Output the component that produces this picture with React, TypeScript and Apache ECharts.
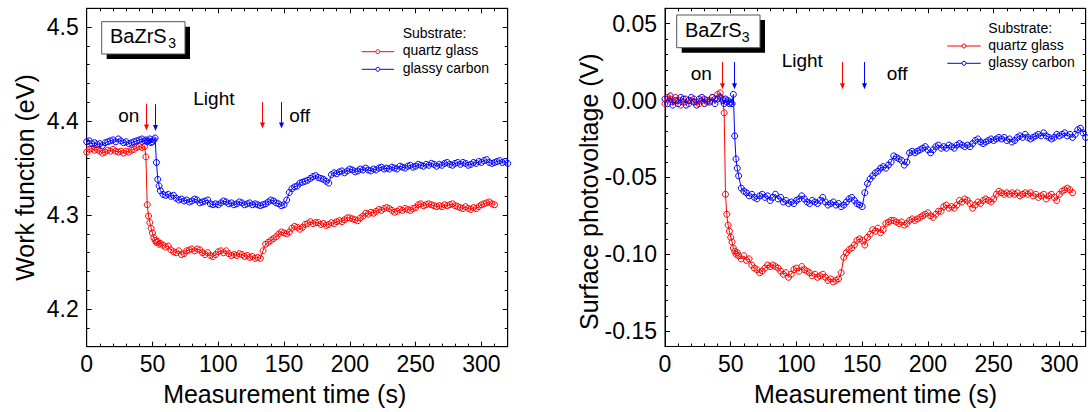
import React, { useEffect, useRef } from "react";
import * as echarts from "echarts";

const FONT = "Liberation Sans, Arial, sans-serif";
const RED = "#ff0000";
const BLUE = "#0000ff";

// Measurement time (s)
const TIME = [
  0, 2, 4, 6, 8, 10, 12, 14, 16, 18, 20, 22, 24, 26, 28, 30, 32, 34, 36, 38, 40, 42, 44,
  45, 46, 47, 48, 49, 50, 51, 52, 53, 54, 55, 56,
  58, 60, 62, 64, 66, 68, 70, 72, 74, 76, 78, 80, 82, 84, 86, 88, 90, 92, 94, 96, 98, 100,
  102, 104, 106, 108, 110, 112, 114, 116, 118, 120, 122, 124, 126, 128, 130, 132, 134, 136,
  138, 140, 142, 144, 146, 148, 150, 152, 154, 156, 158, 160, 162, 164, 166, 168, 170, 172,
  174, 176, 178, 180, 182, 184, 186, 188, 190, 192, 194, 196, 198, 200, 202, 204, 206, 208,
  210, 212, 214, 216, 218, 220, 222, 224, 226, 228, 230, 232, 234, 236, 238, 240, 242, 244,
  246, 248, 250, 252, 254, 256, 258, 260, 262, 264, 266, 268, 270, 272, 274, 276, 278, 280,
  282, 284, 286, 288, 290, 292, 294, 296, 298, 300, 302, 304, 306, 308, 310, 312, 314, 316,
  318, 320,
];

// Work function (eV), quartz glass substrate
const WF_QUARTZ = [
  4.367, 4.370, 4.371, 4.369, 4.370, 4.368, 4.366, 4.367, 4.369, 4.368, 4.370, 4.368, 4.367, 4.368, 4.366, 4.368, 4.367, 4.369, 4.370, 4.372, 4.373, 4.372, 4.373,
  4.362, 4.311, 4.299, 4.292, 4.286, 4.281, 4.276, 4.273, 4.271, 4.272, 4.269, 4.270,
  4.268, 4.266, 4.267, 4.263, 4.261, 4.260, 4.262, 4.258, 4.259, 4.262,
  4.263, 4.264, 4.262, 4.264, 4.263, 4.260, 4.258, 4.260, 4.257, 4.256,
  4.258, 4.261, 4.262, 4.260, 4.262, 4.259, 4.257, 4.258, 4.257, 4.259,
  4.258, 4.256, 4.257, 4.255, 4.256, 4.254, 4.255, 4.254,
  4.262, 4.269, 4.271, 4.273, 4.275, 4.277, 4.280, 4.282, 4.281, 4.280,
  4.282, 4.286, 4.288, 4.287, 4.285, 4.287, 4.290, 4.291, 4.293, 4.291,
  4.292, 4.292, 4.290, 4.291, 4.289, 4.290, 4.292, 4.291, 4.293, 4.294,
  4.293, 4.295, 4.297, 4.297, 4.296, 4.295, 4.294, 4.297, 4.299, 4.302,
  4.301, 4.303, 4.302, 4.304, 4.306, 4.305, 4.307, 4.308, 4.307, 4.305,
  4.303, 4.304, 4.306, 4.305, 4.307, 4.306, 4.305, 4.307, 4.308, 4.311,
  4.312, 4.310, 4.311, 4.312, 4.311, 4.310, 4.309, 4.310, 4.309, 4.311,
  4.310, 4.311, 4.312, 4.310, 4.309, 4.308, 4.307, 4.309, 4.307, 4.306,
  4.308, 4.307, 4.309, 4.311, 4.312, 4.313, 4.314, 4.312, 4.311,
];

// Work function (eV), glassy carbon substrate
const WF_CARBON = [
  4.378, 4.379, 4.376, 4.377, 4.375, 4.376, 4.374, 4.377, 4.378, 4.379, 4.380, 4.378, 4.381, 4.379, 4.377, 4.378, 4.376, 4.377, 4.378, 4.379, 4.380, 4.381, 4.379,
  4.380, 4.378, 4.379, 4.381, 4.377, 4.378, 4.380, 4.382, 4.356, 4.338, 4.331, 4.326,
  4.322, 4.321, 4.322, 4.320, 4.321, 4.318, 4.316, 4.317, 4.315, 4.316,
  4.314, 4.315, 4.317, 4.316, 4.313, 4.314, 4.315, 4.316, 4.312, 4.311,
  4.312, 4.311, 4.313, 4.315, 4.314, 4.312, 4.313, 4.311, 4.312, 4.314,
  4.313, 4.311, 4.312, 4.313, 4.311, 4.312, 4.311, 4.310, 4.311, 4.312,
  4.314, 4.316, 4.315, 4.313, 4.312, 4.310, 4.311,
  4.316, 4.324, 4.328, 4.330, 4.331, 4.334, 4.335, 4.336, 4.337, 4.339,
  4.341, 4.342, 4.340, 4.339, 4.338, 4.336, 4.334, 4.343, 4.345, 4.344,
  4.346, 4.347, 4.345, 4.347, 4.349, 4.348, 4.346, 4.347, 4.349, 4.348,
  4.350, 4.348, 4.347, 4.349, 4.348, 4.350, 4.351, 4.349, 4.350, 4.349,
  4.351, 4.350, 4.349, 4.352, 4.351, 4.350, 4.352, 4.353, 4.351, 4.352,
  4.354, 4.353, 4.352, 4.354, 4.353, 4.355, 4.354, 4.352, 4.354, 4.353,
  4.355, 4.356, 4.354, 4.353, 4.355, 4.356, 4.354, 4.356, 4.355, 4.353,
  4.354, 4.356, 4.355, 4.357, 4.356, 4.358, 4.359, 4.356, 4.355, 4.356,
  4.357, 4.358, 4.356, 4.357, 4.355,
];

// Surface photovoltage (V), quartz glass substrate
const SPV_QUARTZ = [
  -0.002, 0.002, 0.001, -0.001, 0.002, 0.000, -0.003, -0.001, 0.001, -0.002, 0.000, 0.001, -0.001, -0.002, 0.000, 0.001, -0.001, 0.000, 0.002, 0.001, 0.004, 0.005, 0.001,
  -0.008, -0.061, -0.074, -0.081, -0.085, -0.089, -0.092, -0.096, -0.098, -0.100, -0.099, -0.101,
  -0.103, -0.101, -0.104, -0.103, -0.107, -0.109, -0.110, -0.112, -0.111, -0.109,
  -0.107, -0.108, -0.107, -0.108, -0.109, -0.111, -0.113, -0.112, -0.115, -0.113,
  -0.110, -0.109, -0.111, -0.108, -0.110, -0.111, -0.112, -0.114, -0.113, -0.115,
  -0.114, -0.113, -0.115, -0.117, -0.116, -0.118, -0.117, -0.116,
  -0.112, -0.102, -0.099, -0.097, -0.096, -0.094, -0.091, -0.090, -0.091, -0.094,
  -0.089, -0.087, -0.084, -0.085, -0.083, -0.086, -0.084, -0.080, -0.079, -0.078,
  -0.078, -0.079, -0.080, -0.079, -0.081, -0.080, -0.078, -0.077, -0.078, -0.077,
  -0.076, -0.075, -0.074, -0.073, -0.075, -0.076, -0.074, -0.072, -0.072, -0.069,
  -0.068, -0.070, -0.069, -0.070, -0.068, -0.065, -0.066, -0.064, -0.065, -0.067,
  -0.070, -0.068, -0.066, -0.067, -0.065, -0.064, -0.065, -0.066, -0.064, -0.061,
  -0.059, -0.060, -0.061, -0.060, -0.061, -0.060, -0.061, -0.060, -0.062, -0.061,
  -0.060, -0.061, -0.060, -0.062, -0.061, -0.063, -0.062, -0.061, -0.064, -0.062,
  -0.061, -0.063, -0.065, -0.061, -0.059, -0.058, -0.057, -0.058, -0.060,
];

// Surface photovoltage (V), glassy carbon substrate
const SPV_CARBON = [
  0.001, -0.002, 0.003, -0.003, 0.000, -0.002, 0.002, 0.001, -0.003, 0.000, 0.002, -0.001, -0.003, 0.001, 0.002, -0.002, 0.000, -0.001, 0.002, -0.002, 0.001, 0.002, 0.000,
  -0.002, 0.001, -0.001, 0.000, -0.002, -0.001, -0.002, 0.004, -0.023, -0.038, -0.044, -0.049,
  -0.057, -0.059, -0.060, -0.062, -0.061, -0.063, -0.064, -0.062, -0.061, -0.063,
  -0.062, -0.065, -0.063, -0.061, -0.064, -0.063, -0.066, -0.065, -0.067, -0.066,
  -0.067, -0.065, -0.064, -0.062, -0.064, -0.066, -0.067, -0.065, -0.066, -0.067,
  -0.065, -0.063, -0.066, -0.068, -0.067, -0.066, -0.068, -0.067, -0.069, -0.068,
  -0.066, -0.064, -0.063, -0.065, -0.067, -0.068, -0.069,
  -0.060, -0.054, -0.051, -0.049, -0.047, -0.046, -0.044, -0.043, -0.044, -0.042,
  -0.040, -0.036, -0.037, -0.038, -0.039, -0.042, -0.040, -0.034, -0.033, -0.034,
  -0.033, -0.032, -0.031, -0.030, -0.032, -0.034, -0.032, -0.030, -0.029, -0.031,
  -0.030, -0.031, -0.029, -0.030, -0.031, -0.029, -0.028, -0.029, -0.030, -0.029,
  -0.030, -0.028, -0.026, -0.025, -0.027, -0.028, -0.027, -0.026, -0.025, -0.026,
  -0.025, -0.024, -0.025, -0.024, -0.026, -0.025, -0.027, -0.026, -0.024, -0.023,
  -0.024, -0.022, -0.024, -0.025, -0.024, -0.023, -0.022, -0.023, -0.021, -0.023,
  -0.024, -0.025, -0.024, -0.022, -0.023, -0.022, -0.021, -0.023, -0.022, -0.024,
  -0.022, -0.019, -0.018, -0.021, -0.024,
];

// Tick values
const X_MAJOR = [0, 50, 100, 150, 200, 250, 300];
const X_MINOR = [10, 20, 30, 40, 60, 70, 80, 90, 110, 120, 130, 140, 160, 170, 180, 190, 210, 220, 230, 240, 260, 270, 280, 290, 310];
const WF_MAJOR = [4.2, 4.3, 4.4, 4.5];
const WF_MINOR = [4.16, 4.18, 4.22, 4.24, 4.26, 4.28, 4.32, 4.34, 4.36, 4.38, 4.42, 4.44, 4.46, 4.48, 4.52];
const SPV_MAJOR = [-0.15, -0.1, -0.05, 0, 0.05];
const SPV_MINOR = [-0.16, -0.14, -0.13, -0.12, -0.11, -0.09, -0.08, -0.07, -0.06, -0.04, -0.03, -0.02, -0.01, 0.01, 0.02, 0.03, 0.04, 0.06];

// Light on/off arrows
const WF_ARROWS = [
  { t: 45, top: 4.4185, bottom: 4.390, color: RED },
  { t: 52, top: 4.4180, bottom: 4.3895, color: BLUE },
  { t: 133, top: 4.4202, bottom: 4.392, color: RED },
  { t: 148, top: 4.4202, bottom: 4.392, color: BLUE },
];
const SPV_ARROWS = [
  { t: 43.6, top: 0.025, bottom: 0.0074, color: RED },
  { t: 52.5, top: 0.025, bottom: 0.0074, color: BLUE },
  { t: 134.4, top: 0.025, bottom: 0.0074, color: RED },
  { t: 151.6, top: 0.025, bottom: 0.0074, color: BLUE },
];

const LEGEND_NAMES = ["quartz glass", "glassy carbon"];

const toPairs = (vals: number[]) => vals.map((v, i) => [TIME[i], v]);

function axisSet(
  kind: "x" | "y",
  g: number,
  min: number,
  max: number,
  majors: number[],
  minors: number[],
  fmt: (v: number) => string
) {
  const line = { color: "#000", width: 1 };
  const posA = kind === "x" ? "bottom" : "left";
  const posB = kind === "x" ? "top" : "right";
  const base = {
    gridIndex: g,
    type: "value",
    min,
    max,
    splitLine: { show: false },
    axisPointer: { show: false },
  };
  return [
    {
      ...base,
      position: posA,
      axisLine: { show: true, onZero: false, lineStyle: line },
      axisTick: { show: true, inside: true, length: 5, customValues: majors, lineStyle: line },
      axisLabel: {
        show: true,
        customValues: majors,
        formatter: fmt,
        color: "#000",
        fontSize: 23,
        fontFamily: FONT,
        margin: kind === "x" ? 6 : 8,
      },
    },
    {
      ...base,
      position: posA,
      axisLine: { show: false, onZero: false },
      axisTick: { show: true, inside: true, length: 3, customValues: minors, lineStyle: line },
      axisLabel: { show: false },
    },
    {
      ...base,
      position: posB,
      axisLine: { show: true, onZero: false, lineStyle: line },
      axisTick: { show: true, inside: true, length: 5, customValues: majors, lineStyle: line },
      axisLabel: { show: false },
    },
    {
      ...base,
      position: posB,
      axisLine: { show: false, onZero: false },
      axisTick: { show: true, inside: true, length: 3, customValues: minors, lineStyle: line },
      axisLabel: { show: false },
    },
  ];
}

function seriesOf(name: string, vals: number[], color: string, ax: number) {
  return {
    name,
    type: "line",
    xAxisIndex: ax,
    yAxisIndex: ax,
    data: toPairs(vals),
    symbol: "circle",
    symbolSize: 6,
    showSymbol: true,
    lineStyle: { color, width: 1 },
    itemStyle: { color: "rgba(255,255,255,0)", borderColor: color, borderWidth: 1 },
  };
}

function txt(x: number, y: number, text: string, size: number, align = "left", rotation = 0) {
  return {
    type: "text",
    x,
    y,
    rotation,
    style: {
      text,
      fill: "#000",
      font: `${size}px ${FONT}`,
      textAlign: align,
      textVerticalAlign: "middle",
    },
    z: 100,
  };
}

function sampleBox(x0: number, y0: number, w: number, h: number, tx: number, ty: number, sx: number, sy: number) {
  return [
    { type: "rect", shape: { x: x0 + 5, y: y0 + 5, width: w, height: h }, style: { fill: "#000" }, z: 90 },
    { type: "rect", shape: { x: x0, y: y0, width: w, height: h }, style: { fill: "#fff", stroke: "#555", lineWidth: 1 }, z: 91 },
    txt(tx, ty, "BaZrS", 20),
    txt(sx, sy, "3", 14),
  ];
}

function legendBlock(lx1: number, lx2: number, tx: number, yHead: number, y1: number, y2: number) {
  const out: any[] = [txt(tx, yHead, "Substrate:", 14)];
  [
    [y1, RED, LEGEND_NAMES[0]],
    [y2, BLUE, LEGEND_NAMES[1]],
  ].forEach(([y, c, n]: any) => {
    out.push({ type: "line", shape: { x1: lx1, y1: y, x2: lx2, y2: y }, style: { stroke: c, lineWidth: 1 }, z: 100 });
    out.push({ type: "circle", shape: { cx: (lx1 + lx2) / 2, cy: y, r: 2 }, style: { fill: "#fff", stroke: c, lineWidth: 1 }, z: 101 });
    out.push(txt(tx, y - 1.5, n, 14));
  });
  return out;
}

export default function App() {
  const ref = useRef<HTMLDivElement>(null);
  useEffect(() => {
    if (!ref.current) return;
    const chart = echarts.init(ref.current, null, { renderer: "svg" });
    const xAxes = [
      ...axisSet("x", 0, 0, 320, X_MAJOR, X_MINOR, (v) => String(v)),
      ...axisSet("x", 1, 0, 320, X_MAJOR, X_MINOR, (v) => String(v)),
    ];
    const yAxes = [
      ...axisSet("y", 0, 4.16, 4.52, WF_MAJOR, WF_MINOR, (v) => v.toFixed(1)),
      ...axisSet("y", 1, -0.16, 0.06, SPV_MAJOR, SPV_MINOR, (v) => v.toFixed(2)),
    ];
    chart.setOption({
      animation: false,
      backgroundColor: "#fff",
      textStyle: { fontFamily: FONT },
      grid: [
        { left: 86.7, right: 1088 - 507.7, top: 8.3, bottom: 412 - 346.7, containLabel: false, show: true, borderColor: "#000", borderWidth: 1, backgroundColor: "transparent" },
        { left: 665, right: 1088 - 1085.7, top: 8.3, bottom: 412 - 346.5, containLabel: false, show: true, borderColor: "#000", borderWidth: 1, backgroundColor: "transparent" },
      ],
      xAxis: xAxes,
      yAxis: yAxes,
      series: [
        seriesOf(LEGEND_NAMES[0], WF_QUARTZ, RED, 0),
        seriesOf(LEGEND_NAMES[1], WF_CARBON, BLUE, 0),
        seriesOf(LEGEND_NAMES[0], SPV_QUARTZ, RED, 4),
        seriesOf(LEGEND_NAMES[1], SPV_CARBON, BLUE, 4),
      ],
    } as any);

    const arrows = (list: any[], ax: number) => {
      const out: any[] = [];
      list.forEach((a) => {
        const p1 = chart.convertToPixel({ xAxisIndex: ax, yAxisIndex: ax } as any, [a.t, a.top]) as number[];
        const p2 = chart.convertToPixel({ xAxisIndex: ax, yAxisIndex: ax } as any, [a.t, a.bottom]) as number[];
        const x = Math.round(p1[0]) + 0.5;
        out.push({ type: "line", shape: { x1: x, y1: p1[1], x2: x, y2: p2[1] - 4 }, style: { stroke: a.color, lineWidth: 1 }, z: 100 });
        out.push({
          type: "polygon",
          shape: { points: [[x - 2.5, p2[1] - 6], [x + 2.5, p2[1] - 6], [x, p2[1]]] },
          style: { fill: a.color },
          z: 100,
        });
      });
      return out;
    };

    const graphics: any[] = [
      ...sampleBox(101.7, 21.7, 83.3, 32.3, 110, 35.7, 168.3, 43.4),
      ...sampleBox(676.7, 15, 83.3, 32.7, 685, 29.7, 741.7, 36.8),
      ...legendBlock(361.7, 394, 402.7, 32.8, 51.7, 69.3),
      ...legendBlock(947.3, 980.7, 988.3, 28.4, 46, 63.3),
      txt(118.3, 115.6, "on", 19),
      txt(193.3, 98.4, "Light", 19),
      txt(289.3, 115.6, "off", 19),
      txt(690.7, 73.3, "on", 19),
      txt(781.7, 60, "Light", 19),
      txt(886.7, 73.3, "off", 19),
      ...arrows(WF_ARROWS, 0),
      ...arrows(SPV_ARROWS, 4),
      txt(24.7, 177.5, "Work function (eV)", 25, "center", Math.PI / 2),
      txt(589, 191.7, "Surface photovoltage (V)", 25, "center", Math.PI / 2),
      txt(284.7, 394.3, "Measurement time (s)", 25, "center"),
      txt(875.6, 394.3, "Measurement time (s)", 25, "center"),
    ];
    chart.setOption({ graphic: graphics } as any);
    return () => chart.dispose();
  }, []);
  return (
    <div
      ref={ref}
      style={{ position: "absolute", left: 0, top: 0, width: 1088, height: 412, background: "#fff" }}
    />
  );
}
